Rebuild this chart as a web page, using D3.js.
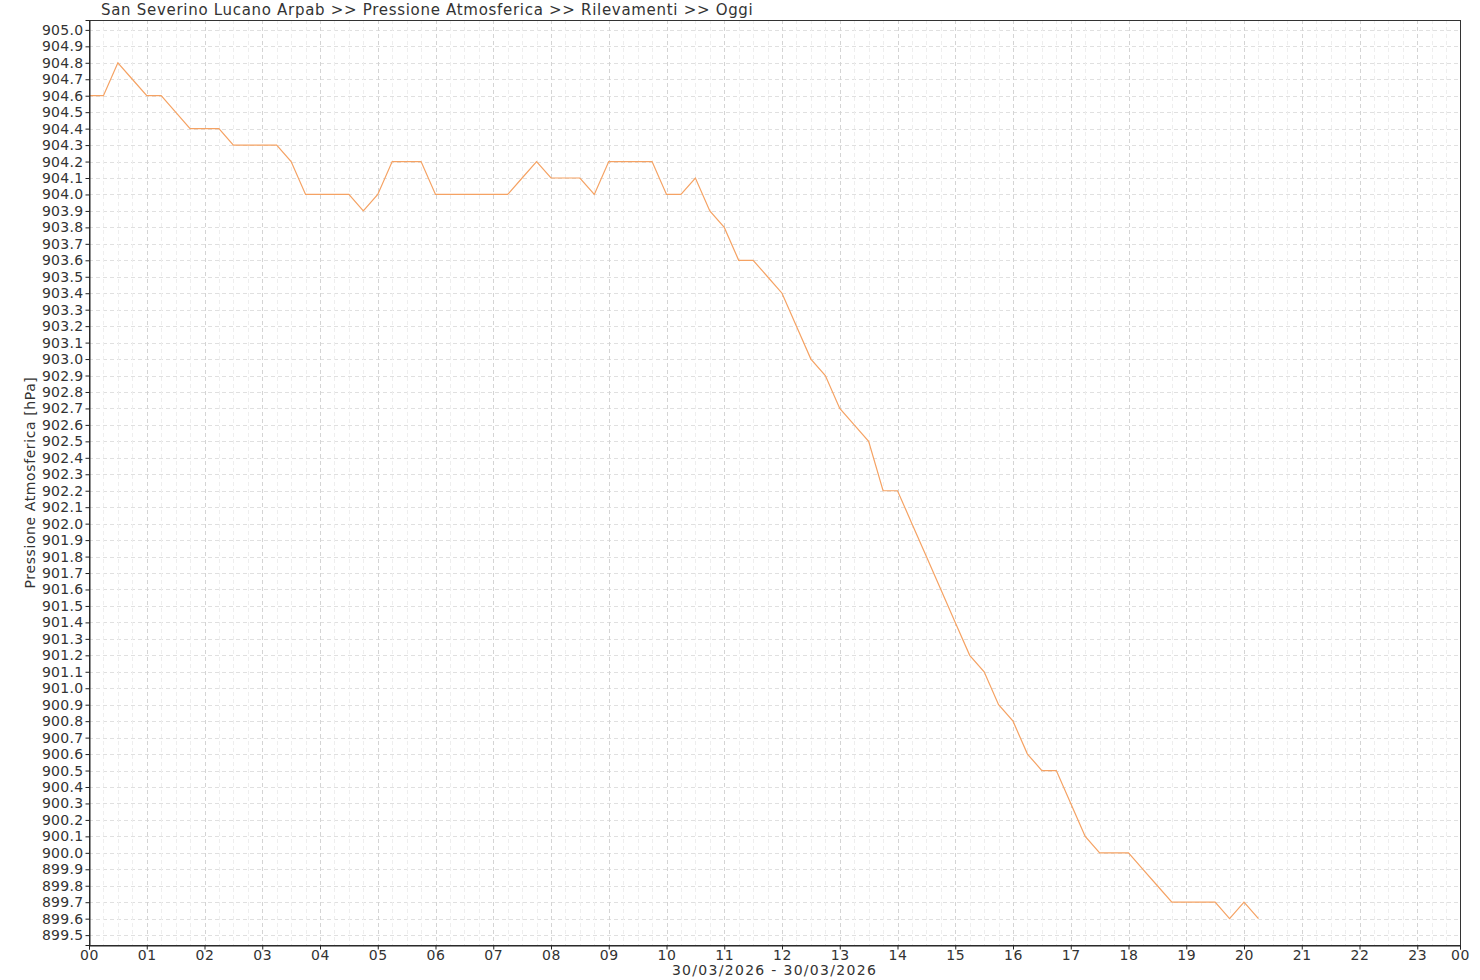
<!DOCTYPE html>
<html>
<head>
<meta charset="utf-8">
<script src="https://cdn.jsdelivr.net/npm/d3@7"></script>
<style>
  html, body { margin: 0; padding: 0; background: #fff; }
  svg { display: block; }
  text { font-family: "DejaVu Sans", sans-serif; fill: #333; }
</style>
</head>
<body>
<script>
// ---- data ----
const chartTitle = "San Severino Lucano Arpab >> Pressione Atmosferica >> Rilevamenti >> Oggi";
const yAxisTitle = "Pressione Atmosferica [hPa]";
const xAxisTitle = "30/03/2026 - 30/03/2026";

const times = [
  "00:00","00:15","00:30","00:45","01:00","01:15","01:30","01:45",
  "02:00","02:15","02:30","02:45","03:00","03:15","03:30","03:45",
  "04:00","04:15","04:30","04:45","05:00","05:15","05:30","05:45",
  "06:00","06:15","06:30","06:45","07:00","07:15","07:30","07:45",
  "08:00","08:15","08:30","08:45","09:00","09:15","09:30","09:45",
  "10:00","10:15","10:30","10:45","11:00","11:15","11:30","11:45",
  "12:00","12:15","12:30","12:45","13:00","13:15","13:30","13:45",
  "14:00","14:15","14:30","14:45","15:00","15:15","15:30","15:45",
  "16:00","16:15","16:30","16:45","17:00","17:15","17:30","17:45",
  "18:00","18:15","18:30","18:45","19:00","19:15","19:30","19:45",
  "20:00","20:15"
];
const pressure = [
  904.6,904.6,904.8,904.7,904.6,904.6,904.5,904.4,
  904.4,904.4,904.3,904.3,904.3,904.3,904.2,904.0,
  904.0,904.0,904.0,903.9,904.0,904.2,904.2,904.2,
  904.0,904.0,904.0,904.0,904.0,904.0,904.1,904.2,
  904.1,904.1,904.1,904.0,904.2,904.2,904.2,904.2,
  904.0,904.0,904.1,903.9,903.8,903.6,903.6,903.5,
  903.4,903.2,903.0,902.9,902.7,902.6,902.5,902.2,
  902.2,902.0,901.8,901.6,901.4,901.2,901.1,900.9,
  900.8,900.6,900.5,900.5,900.3,900.1,900.0,900.0,
  900.0,899.9,899.8,899.7,899.7,899.7,899.7,899.6,
  899.7,899.6
];
const hourLabels = ["00","01","02","03","04","05","06","07","08","09","10","11",
                    "12","13","14","15","16","17","18","19","20","21","22","23"];
const endLabel = "00";
const xDomain = [0, 23.74];          // hours shown on the axis
const yDomain = [899.44, 905.06];    // hPa shown on the axis
const yTickMin = 899.5, yTickMax = 905.0, yTickStep = 0.1;

// ---- layout ----
const W = 1480, H = 980;
const m = { left: 89, right: 20, top: 20, bottom: 35 };
const pw = W - m.left - m.right, ph = H - m.top - m.bottom;

const toHours = s => { const [h, mm] = s.split(":").map(Number); return h + mm / 60; };
const data = times.map((t, i) => ({ t: toHours(t), v: pressure[i] }));

const svg = d3.select("body").append("svg").attr("width", W).attr("height", H);
const g = svg.append("g").attr("transform", `translate(${m.left},${m.top})`);

const x = d3.scaleLinear().domain(xDomain).range([0, pw]);
const y = d3.scaleLinear().domain(yDomain).range([ph, 0]);

const nY = Math.round((yTickMax - yTickMin) / yTickStep);
const yTicks = d3.range(nY + 1).map(i => +(yTickMin + i * yTickStep).toFixed(1));
const hourTicks = hourLabels.map((d, i) => i);
const minorTicks = d3.range(0, xDomain[1], 0.25).filter(h => Math.abs(h - Math.round(h)) > 1e-6);

// grid
const grid = g.append("g");
grid.selectAll(".hg").data(yTicks).join("line")
  .attr("x1", 0).attr("x2", pw)
  .attr("y1", d => Math.round(y(d)) + 0.5).attr("y2", d => Math.round(y(d)) + 0.5)
  .attr("stroke", "#e0e0e0").attr("stroke-width", 1).attr("stroke-dasharray", "4,3");
grid.selectAll(".vm").data(minorTicks).join("line")
  .attr("x1", d => Math.round(x(d)) + 0.5).attr("x2", d => Math.round(x(d)) + 0.5)
  .attr("y1", 0).attr("y2", ph)
  .attr("stroke", "#eeeeee").attr("stroke-width", 1).attr("stroke-dasharray", "4,3");
grid.selectAll(".vg").data(hourTicks.slice(1)).join("line")
  .attr("x1", d => Math.round(x(d)) + 0.5).attr("x2", d => Math.round(x(d)) + 0.5)
  .attr("y1", 0).attr("y2", ph)
  .attr("stroke", "#d4d4d4").attr("stroke-width", 1).attr("stroke-dasharray", "4,3");

// line
g.append("path").datum(data)
  .attr("fill", "none").attr("stroke", "#f5a263").attr("stroke-width", 1.2)
  .attr("d", d3.line().x(d => x(d.t)).y(d => y(d.v)));

// frame
g.append("rect").attr("x", 0.5).attr("y", 0.5).attr("width", pw).attr("height", ph)
  .attr("fill", "none").attr("stroke", "#333").attr("stroke-width", 1);

// y axis
const yAxis = d3.axisLeft(y).tickValues(yTicks).tickFormat(d3.format(".1f")).tickSize(4).tickPadding(2);
const ya = g.append("g").attr("transform", "translate(0.5,0)").call(yAxis);
ya.select(".domain").attr("stroke", "#222");
ya.selectAll(".tick line").attr("stroke", "#222");
ya.selectAll("text").style("font-size", "14px").style("letter-spacing", "0.3px").attr("fill", "#333");

// x axis
const xTickVals = hourTicks.concat([xDomain[1]]);
const xLabels = hourLabels.concat([endLabel]);
const xAxis = d3.axisBottom(x).tickValues(xTickVals)
  .tickFormat((d, i) => xLabels[i]).tickSize(4).tickPadding(1);
const xa = g.append("g").attr("transform", `translate(0,${ph + 0.5})`).call(xAxis);
xa.select(".domain").attr("stroke", "#222");
xa.selectAll(".tick line").attr("stroke", "#222");
xa.selectAll("text").style("font-size", "14px").style("letter-spacing", "0.5px").attr("fill", "#333");

// titles
svg.append("text").attr("x", 101).attr("y", 15).style("font-size", "15px")
  .style("letter-spacing", "0.7px").text(chartTitle);
svg.append("text").attr("x", m.left + pw / 2).attr("y", 975).attr("text-anchor", "middle")
  .style("font-size", "14px").style("letter-spacing", "1.3px").text(xAxisTitle);
svg.append("text").attr("transform", `translate(35,${m.top + ph / 2}) rotate(-90)`)
  .attr("text-anchor", "middle").style("font-size", "14px").style("letter-spacing", "0.6px").text(yAxisTitle);
</script>
</body>
</html>
